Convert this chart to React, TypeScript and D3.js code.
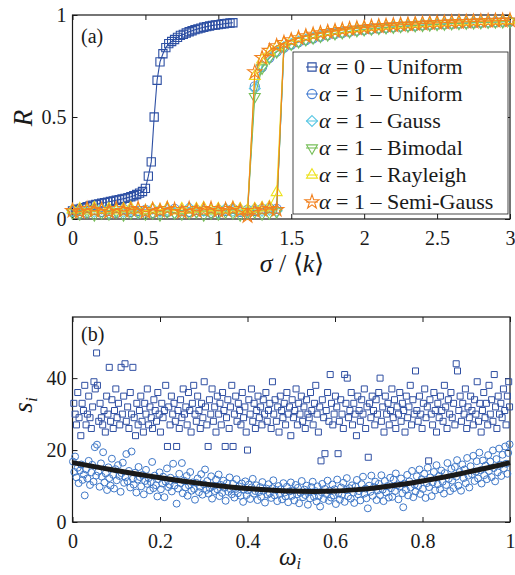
import React, { useEffect, useRef } from 'react';
import * as d3 from 'd3';

const width = 515;
const height = 575;
const serif = "'Liberation Serif', 'Times New Roman', serif";
const ink = '#1a1a1a';

// ---------- panel (a): order parameter R against sigma/<k> ----------
const sigmaAlpha0 = [0, 0.02, 0.04, 0.06, 0.08, 0.1, 0.12, 0.14, 0.16, 0.18, 0.2, 0.22, 0.24, 0.26, 0.28, 0.3, 0.32, 0.34, 0.36, 0.38, 0.4, 0.42, 0.44, 0.46, 0.48, 0.5, 0.52, 0.54, 0.56, 0.58, 0.6, 0.62, 0.64, 0.66, 0.68, 0.7, 0.72, 0.74, 0.76, 0.78, 0.8, 0.82, 0.84, 0.86, 0.88, 0.9, 0.92, 0.94, 0.96, 0.98, 1, 1.02, 1.04, 1.06, 1.08, 1.1];
const rAlpha0 = [0.04, 0.045, 0.048, 0.052, 0.056, 0.06, 0.064, 0.068, 0.071, 0.074, 0.077, 0.08, 0.083, 0.086, 0.089, 0.092, 0.095, 0.098, 0.101, 0.105, 0.109, 0.114, 0.12, 0.127, 0.135, 0.15, 0.21, 0.28, 0.5, 0.68, 0.77, 0.81, 0.84, 0.86, 0.87, 0.88, 0.89, 0.9, 0.905, 0.912, 0.918, 0.923, 0.928, 0.932, 0.936, 0.94, 0.943, 0.946, 0.949, 0.951, 0.953, 0.955, 0.957, 0.959, 0.961, 0.962];

const sigmaGrid = [0, 0.05, 0.1, 0.15, 0.2, 0.25, 0.3, 0.35, 0.4, 0.45, 0.5, 0.55, 0.6, 0.65, 0.7, 0.75, 0.8, 0.85, 0.9, 0.95, 1, 1.05, 1.1, 1.15, 1.2, 1.25, 1.3, 1.35, 1.4, 1.45, 1.5, 1.55, 1.6, 1.65, 1.7, 1.75, 1.8, 1.85, 1.9, 1.95, 2, 2.05, 2.1, 2.15, 2.2, 2.25, 2.3, 2.35, 2.4, 2.45, 2.5, 2.55, 2.6, 2.65, 2.7, 2.75, 2.8, 2.85, 2.9, 2.95, 3];
// incoherent branch: sigmaGrid[0..28]; synchronized branch: sigmaGrid[25..60]
const lowStart = 0;
const highStart = 25;

const lowUniform = [0.035, 0.04, 0.03, 0.045, 0.035, 0.04, 0.03, 0.05, 0.035, 0.04, 0.045, 0.03, 0.04, 0.035, 0.05, 0.04, 0.035, 0.045, 0.04, 0.03, 0.045, 0.04, 0.05, 0.035, 0.045, 0.04, 0.05, 0.055, 0.05];
const lowGauss = [0.04, 0.03, 0.045, 0.035, 0.05, 0.03, 0.04, 0.035, 0.045, 0.03, 0.04, 0.05, 0.035, 0.045, 0.03, 0.04, 0.055, 0.035, 0.04, 0.045, 0.03, 0.05, 0.04, 0.045, 0.035, 0.05, 0.04, 0.045, 0.04];
const lowBimodal = [0.03, 0.025, 0.035, 0.02, 0.03, 0.025, 0.035, 0.02, 0.03, 0.035, 0.025, 0.03, 0.02, 0.035, 0.03, 0.025, 0.03, 0.035, 0.02, 0.03, 0.025, 0.035, 0.03, 0.02, 0.03, 0.035, 0.025, 0.03, 0.035];
const lowRayleigh = [0.045, 0.05, 0.04, 0.055, 0.045, 0.05, 0.04, 0.05, 0.055, 0.045, 0.04, 0.05, 0.045, 0.055, 0.04, 0.05, 0.045, 0.05, 0.055, 0.04, 0.05, 0.045, 0.055, 0.05, 0.045, 0.05, 0.055, 0.06, 0.13];
const lowSemiGauss = [0.04, 0.035, 0.05, 0.04, 0.045, 0.035, 0.05, 0.04, 0.045, 0.05, 0.035, 0.045, 0.04, 0.05, 0.045, 0.035, 0.05, 0.04, 0.045, 0.05, 0.04, 0.045, 0.05, 0.04, 0.015, 0.04, 0.045, 0.05, 0.045];

const highUniform = [0.65, 0.745, 0.79, 0.82, 0.84, 0.855, 0.867, 0.877, 0.886, 0.894, 0.901, 0.907, 0.913, 0.918, 0.923, 0.927, 0.931, 0.934, 0.937, 0.94, 0.943, 0.945, 0.947, 0.95, 0.952, 0.954, 0.955, 0.957, 0.959, 0.96, 0.962, 0.963, 0.964, 0.966, 0.967, 0.968];
const highGauss = [0.64, 0.75, 0.795, 0.823, 0.843, 0.858, 0.87, 0.88, 0.889, 0.897, 0.904, 0.91, 0.915, 0.92, 0.925, 0.929, 0.932, 0.936, 0.939, 0.942, 0.944, 0.947, 0.949, 0.951, 0.953, 0.955, 0.957, 0.958, 0.96, 0.961, 0.963, 0.964, 0.965, 0.966, 0.968, 0.969];
const highBimodal = [0.6, 0.74, 0.79, 0.82, 0.842, 0.857, 0.869, 0.879, 0.888, 0.896, 0.903, 0.909, 0.914, 0.919, 0.924, 0.928, 0.932, 0.935, 0.938, 0.941, 0.944, 0.946, 0.948, 0.95, 0.952, 0.954, 0.956, 0.958, 0.959, 0.961, 0.962, 0.963, 0.965, 0.966, 0.967, 0.968];
const highRayleigh = [0.7, 0.78, 0.82, 0.845, 0.862, 0.875, 0.886, 0.895, 0.903, 0.91, 0.916, 0.921, 0.926, 0.93, 0.934, 0.938, 0.941, 0.944, 0.947, 0.949, 0.952, 0.954, 0.956, 0.958, 0.96, 0.961, 0.963, 0.964, 0.966, 0.967, 0.968, 0.969, 0.97, 0.971, 0.972, 0.973];
const highSemiGauss = [0.72, 0.79, 0.825, 0.848, 0.864, 0.877, 0.887, 0.896, 0.904, 0.911, 0.917, 0.922, 0.927, 0.931, 0.935, 0.938, 0.942, 0.945, 0.947, 0.95, 0.952, 0.954, 0.956, 0.958, 0.96, 0.962, 0.963, 0.965, 0.966, 0.967, 0.968, 0.97, 0.971, 0.972, 0.973, 0.974];

const legendAlpha = ['0', '1', '1', '1', '1', '1'];
const legendDist = ['Uniform', 'Uniform', 'Gauss', 'Bimodal', 'Rayleigh', 'Semi-Gauss'];
const seriesShapes = ['square', 'circle', 'diamond', 'down', 'up', 'star'];
const seriesColors = ['#2d4fa3', '#4a80d2', '#5cc8e4', '#78bf5a', '#ede21e', '#f2811f'];
const alpha1Low = [lowUniform, lowGauss, lowBimodal, lowRayleigh, lowSemiGauss];
const alpha1High = [highUniform, highGauss, highBimodal, highRayleigh, highSemiGauss];

// ---------- panel (b): node strength s_i against natural frequency omega_i ----------
const nodesAlpha0 = [
  [0.003, 33], [0.006, 30], [0.009, 27], [0.012, 36], [0.015, 29], [0.019, 24], [0.022, 33], [0.025, 31], [0.028, 38], [0.031, 27],
  [0.034, 30], [0.037, 35], [0.04, 29], [0.043, 26], [0.046, 32], [0.049, 39], [0.052, 37], [0.055, 47], [0.057, 38], [0.06, 28],
  [0.063, 33], [0.066, 29], [0.069, 27], [0.072, 31], [0.075, 25], [0.078, 35], [0.081, 30], [0.084, 43], [0.087, 28], [0.09, 34],
  [0.093, 26], [0.096, 31], [0.099, 37], [0.102, 29], [0.105, 33], [0.108, 27], [0.111, 43], [0.114, 30], [0.117, 35], [0.12, 44],
  [0.123, 28], [0.126, 32], [0.129, 26], [0.132, 36], [0.135, 30], [0.138, 43], [0.141, 29], [0.144, 24], [0.147, 33], [0.15, 27],
  [0.153, 31], [0.156, 35], [0.159, 28], [0.162, 25], [0.165, 33], [0.168, 30], [0.171, 37], [0.174, 27], [0.177, 32], [0.18, 29],
  [0.183, 26], [0.186, 34], [0.189, 31], [0.192, 28], [0.195, 36], [0.198, 30], [0.201, 25], [0.204, 33], [0.207, 29], [0.21, 31],
  [0.213, 38], [0.217, 21], [0.22, 32], [0.223, 27], [0.226, 35], [0.229, 30], [0.232, 33], [0.235, 28], [0.238, 21], [0.241, 31],
  [0.244, 26], [0.247, 34], [0.25, 29], [0.253, 37], [0.256, 30], [0.259, 32], [0.262, 27], [0.265, 36], [0.268, 31], [0.271, 25],
  [0.274, 33], [0.277, 38], [0.28, 30], [0.283, 28], [0.286, 35], [0.289, 31], [0.292, 26], [0.295, 33], [0.298, 29], [0.301, 39],
  [0.304, 32], [0.307, 27], [0.31, 21], [0.313, 34], [0.316, 30], [0.319, 37], [0.322, 28], [0.325, 32], [0.328, 25], [0.331, 35],
  [0.334, 30], [0.337, 33], [0.34, 27], [0.343, 36], [0.346, 31], [0.349, 21], [0.352, 29], [0.355, 34], [0.358, 26], [0.361, 32],
  [0.364, 38], [0.367, 21], [0.37, 30], [0.373, 35], [0.376, 28], [0.379, 33], [0.382, 31], [0.385, 27], [0.388, 36], [0.391, 29],
  [0.394, 32], [0.397, 25], [0.4, 20], [0.403, 34], [0.406, 30], [0.409, 37], [0.412, 28], [0.415, 33], [0.418, 26], [0.421, 31],
  [0.424, 35], [0.427, 29], [0.43, 32], [0.433, 27], [0.436, 34], [0.439, 30], [0.442, 36], [0.445, 28], [0.448, 31], [0.451, 33],
  [0.454, 26], [0.457, 39], [0.46, 30], [0.463, 34], [0.466, 28], [0.469, 32], [0.472, 25], [0.475, 35], [0.478, 31], [0.481, 29],
  [0.484, 33], [0.487, 27], [0.49, 36], [0.493, 30], [0.496, 32], [0.499, 24], [0.502, 34], [0.505, 29], [0.508, 31], [0.511, 37],
  [0.514, 27], [0.517, 33], [0.52, 30], [0.523, 35], [0.526, 28], [0.529, 32], [0.532, 26], [0.535, 34], [0.538, 30], [0.541, 29],
  [0.544, 36], [0.547, 31], [0.55, 27], [0.553, 33], [0.556, 38], [0.559, 30], [0.562, 25], [0.565, 32], [0.568, 17], [0.571, 34],
  [0.574, 29], [0.577, 19], [0.58, 31], [0.583, 36], [0.586, 28], [0.589, 41], [0.592, 33], [0.595, 27], [0.598, 30], [0.601, 35],
  [0.604, 32], [0.607, 19], [0.61, 28], [0.613, 34], [0.616, 30], [0.619, 26], [0.622, 41], [0.625, 33], [0.628, 40], [0.631, 29],
  [0.634, 31], [0.637, 36], [0.64, 27], [0.643, 33], [0.646, 30], [0.649, 24], [0.652, 35], [0.655, 31], [0.658, 28], [0.661, 34],
  [0.664, 30], [0.667, 37], [0.67, 26], [0.673, 32], [0.676, 18], [0.679, 33], [0.682, 29], [0.685, 35], [0.688, 31], [0.691, 27],
  [0.694, 34], [0.697, 30], [0.7, 36], [0.703, 40], [0.706, 28], [0.709, 32], [0.712, 25], [0.715, 35], [0.718, 30], [0.721, 33],
  [0.724, 27], [0.727, 31], [0.73, 37], [0.733, 29], [0.736, 34], [0.739, 26], [0.742, 32], [0.745, 30], [0.748, 36], [0.751, 28],
  [0.754, 33], [0.757, 31], [0.76, 25], [0.763, 35], [0.766, 29], [0.769, 32], [0.772, 38], [0.775, 27], [0.778, 34], [0.781, 30],
  [0.784, 42], [0.787, 31], [0.79, 28], [0.793, 35], [0.796, 30], [0.799, 26], [0.802, 33], [0.805, 37], [0.808, 29], [0.811, 32],
  [0.814, 17], [0.817, 34], [0.82, 30], [0.823, 27], [0.826, 36], [0.829, 31], [0.832, 25], [0.835, 33], [0.838, 29], [0.841, 35],
  [0.844, 31], [0.847, 28], [0.85, 38], [0.853, 32], [0.856, 26], [0.859, 34], [0.862, 30], [0.865, 36], [0.868, 29], [0.871, 33],
  [0.874, 27], [0.877, 44], [0.88, 42], [0.883, 31], [0.886, 35], [0.889, 28], [0.892, 33], [0.895, 30], [0.898, 37], [0.901, 26],
  [0.904, 32], [0.907, 29], [0.91, 35], [0.913, 31], [0.916, 27], [0.919, 34], [0.922, 30], [0.925, 39], [0.928, 28], [0.931, 33],
  [0.934, 25], [0.937, 31], [0.94, 36], [0.943, 29], [0.946, 33], [0.949, 27], [0.952, 38], [0.955, 30], [0.958, 34], [0.961, 28],
  [0.964, 41], [0.967, 32], [0.97, 26], [0.973, 35], [0.976, 30], [0.979, 33], [0.982, 29], [0.985, 37], [0.988, 31], [0.991, 27],
  [0.994, 35], [0.997, 39], [0.999, 32],
];

const nodesAlpha1 = [
  [0.001, 16.8], [0.004, 13.9], [0.006, 18.2], [0.009, 12.4], [0.012, 15.1], [0.014, 10.8], [0.017, 14.3], [0.02, 16.0], [0.023, 11.7], [0.026, 13.2],
  [0.028, 7.4], [0.031, 14.6], [0.034, 12.1], [0.037, 17.0], [0.04, 10.3], [0.043, 13.8], [0.045, 15.9], [0.048, 11.2], [0.051, 20.8], [0.054, 12.9],
  [0.056, 21.5], [0.059, 14.0], [0.062, 9.8], [0.065, 16.3], [0.067, 12.6], [0.07, 19.4], [0.073, 11.0], [0.076, 13.5], [0.079, 8.9], [0.082, 15.2],
  [0.084, 12.2], [0.087, 10.1], [0.09, 17.6], [0.093, 13.1], [0.095, 9.3], [0.098, 14.7], [0.101, 11.6], [0.104, 15.8], [0.107, 12.8], [0.11, 8.4],
  [0.112, 13.6], [0.115, 16.5], [0.118, 10.9], [0.121, 12.4], [0.123, 18.9], [0.126, 11.3], [0.129, 14.2], [0.132, 9.6], [0.135, 19.6], [0.138, 12.0],
  [0.14, 10.4], [0.143, 13.7], [0.146, 8.2], [0.149, 11.8], [0.151, 15.3], [0.154, 12.5], [0.157, 9.9], [0.16, 13.1], [0.163, 7.7], [0.166, 11.4],
  [0.168, 14.5], [0.171, 10.6], [0.174, 12.2], [0.177, 8.8], [0.179, 11.1], [0.182, 16.7], [0.185, 9.4], [0.188, 12.9], [0.191, 10.2], [0.194, 7.1],
  [0.196, 11.9], [0.199, 13.8], [0.202, 9.1], [0.205, 10.7], [0.207, 12.6], [0.21, 6.9], [0.213, 11.2], [0.216, 14.9], [0.219, 9.7], [0.222, 10.4],
  [0.224, 12.3], [0.227, 8.5], [0.23, 16.2], [0.233, 10.1], [0.235, 11.7], [0.238, 5.1], [0.241, 9.3], [0.244, 13.4], [0.247, 10.8], [0.25, 16.4],
  [0.252, 8.0], [0.255, 11.5], [0.258, 9.6], [0.261, 12.8], [0.263, 7.3], [0.266, 10.2], [0.269, 13.9], [0.272, 8.7], [0.275, 11.0], [0.278, 9.2],
  [0.28, 6.2], [0.283, 10.9], [0.286, 12.1], [0.289, 8.3], [0.291, 9.8], [0.294, 13.3], [0.297, 7.6], [0.3, 10.5], [0.303, 14.6], [0.306, 8.9],
  [0.308, 11.4], [0.311, 7.9], [0.314, 9.4], [0.317, 12.7], [0.319, 6.5], [0.322, 10.0], [0.325, 8.6], [0.328, 11.8], [0.331, 9.1], [0.334, 13.2],
  [0.336, 7.2], [0.339, 10.3], [0.342, 8.1], [0.345, 11.5], [0.347, 9.5], [0.35, 5.9], [0.353, 10.8], [0.356, 8.4], [0.359, 12.4], [0.362, 9.0],
  [0.364, 7.7], [0.367, 10.6], [0.37, 6.8], [0.373, 9.2], [0.375, 11.9], [0.378, 8.0], [0.381, 9.9], [0.384, 7.3], [0.387, 10.7], [0.39, 5.6],
  [0.392, 9.0], [0.395, 11.3], [0.398, 7.5], [0.401, 8.8], [0.403, 10.4], [0.406, 6.4], [0.409, 9.6], [0.412, 12.0], [0.415, 7.9], [0.418, 8.6],
  [0.42, 10.2], [0.423, 6.1], [0.426, 8.3], [0.429, 9.7], [0.431, 7.0], [0.434, 11.1], [0.437, 8.7], [0.44, 5.4], [0.443, 9.3], [0.446, 7.6],
  [0.448, 10.5], [0.451, 8.0], [0.454, 6.7], [0.457, 9.4], [0.459, 11.6], [0.462, 7.4], [0.465, 8.9], [0.468, 5.8], [0.471, 10.0], [0.474, 7.8],
  [0.476, 9.1], [0.479, 6.3], [0.482, 10.8], [0.485, 8.2], [0.487, 7.1], [0.49, 9.8], [0.493, 5.5], [0.496, 8.5], [0.499, 11.0], [0.502, 7.3],
  [0.504, 8.8], [0.507, 6.0], [0.51, 10.3], [0.513, 7.7], [0.515, 9.5], [0.518, 5.2], [0.521, 8.1], [0.524, 11.4], [0.527, 6.9], [0.53, 9.0],
  [0.532, 7.5], [0.535, 10.1], [0.538, 4.8], [0.541, 8.4], [0.543, 6.6], [0.546, 9.7], [0.549, 11.2], [0.552, 7.0], [0.555, 8.6], [0.558, 5.7],
  [0.56, 9.9], [0.563, 7.2], [0.566, 4.3], [0.569, 8.3], [0.571, 10.6], [0.574, 6.4], [0.577, 9.2], [0.58, 7.8], [0.583, 11.5], [0.586, 5.9],
  [0.588, 8.7], [0.591, 6.8], [0.594, 10.4], [0.597, 7.4], [0.599, 9.1], [0.602, 5.0], [0.605, 11.8], [0.608, 8.0], [0.611, 6.2], [0.614, 9.6],
  [0.616, 7.6], [0.619, 10.9], [0.622, 5.6], [0.625, 8.9], [0.627, 12.2], [0.63, 7.1], [0.633, 9.4], [0.636, 6.5], [0.639, 10.2], [0.642, 8.2],
  [0.644, 5.3], [0.647, 9.8], [0.65, 11.7], [0.653, 7.7], [0.655, 8.6], [0.658, 6.0], [0.661, 10.5], [0.664, 12.6], [0.667, 7.9], [0.67, 9.3],
  [0.672, 6.6], [0.675, 3.8], [0.678, 10.1], [0.681, 8.4], [0.683, 12.9], [0.686, 7.3], [0.689, 9.7], [0.692, 11.2], [0.695, 6.1], [0.698, 8.8],
  [0.7, 10.6], [0.703, 7.5], [0.706, 13.0], [0.709, 9.0], [0.711, 5.8], [0.714, 11.4], [0.717, 8.2], [0.72, 10.0], [0.723, 6.8], [0.726, 12.3],
  [0.728, 9.4], [0.731, 7.0], [0.734, 11.8], [0.737, 8.6], [0.739, 13.5], [0.742, 10.2], [0.745, 6.3], [0.748, 9.9], [0.751, 12.1], [0.754, 8.0],
  [0.756, 4.1], [0.759, 10.7], [0.762, 8.9], [0.765, 13.1], [0.767, 7.4], [0.77, 11.3], [0.773, 9.6], [0.776, 14.2], [0.779, 6.9], [0.782, 10.4],
  [0.784, 8.5], [0.787, 12.7], [0.79, 10.0], [0.793, 14.6], [0.795, 7.8], [0.798, 11.9], [0.801, 9.2], [0.804, 13.4], [0.807, 6.7], [0.81, 10.8],
  [0.812, 15.1], [0.815, 9.7], [0.818, 12.4], [0.821, 7.2], [0.823, 11.0], [0.826, 13.9], [0.829, 8.8], [0.832, 15.8], [0.835, 10.5], [0.838, 12.8],
  [0.84, 9.1], [0.843, 14.3], [0.846, 11.2], [0.849, 7.9], [0.851, 13.6], [0.854, 10.3], [0.857, 16.4], [0.86, 12.0], [0.863, 8.6], [0.866, 14.8],
  [0.868, 11.5], [0.871, 9.4], [0.874, 15.3], [0.877, 12.6], [0.879, 17.2], [0.882, 10.1], [0.885, 13.9], [0.888, 8.7], [0.891, 16.0], [0.894, 12.2],
  [0.896, 14.6], [0.899, 10.8], [0.902, 17.8], [0.905, 12.9], [0.907, 9.6], [0.91, 15.5], [0.913, 13.3], [0.916, 18.4], [0.919, 11.4], [0.922, 14.0],
  [0.924, 16.9], [0.927, 12.1], [0.93, 19.3], [0.933, 14.4], [0.935, 10.7], [0.938, 17.1], [0.941, 13.0], [0.944, 15.7], [0.947, 11.9], [0.95, 18.6],
  [0.952, 14.2], [0.955, 16.8], [0.958, 12.5], [0.961, 19.9], [0.963, 15.0], [0.966, 11.3], [0.969, 17.5], [0.972, 13.8], [0.975, 20.4], [0.978, 15.9],
  [0.98, 12.8], [0.983, 18.7], [0.986, 14.9], [0.989, 21.0], [0.991, 16.2], [0.994, 13.4], [0.996, 19.2], [0.999, 21.6],
];

const omegaCurve = [0, 0.05, 0.1, 0.15, 0.2, 0.25, 0.3, 0.35, 0.4, 0.45, 0.5, 0.55, 0.6, 0.65, 0.7, 0.75, 0.8, 0.85, 0.9, 0.95, 1];
const sCurve = [16.5, 15.4, 14.3, 13.3, 12.3, 11.4, 10.6, 9.9, 9.3, 8.9, 8.6, 8.5, 8.6, 9.0, 9.6, 10.4, 11.4, 12.5, 13.8, 15.1, 16.5];

const markerPath = (shape: string, size: number) => {
  if (shape === 'diamond') {
    const r = Math.sqrt(size / 2);
    return `M0,${-r}L${r},0L0,${r}L${-r},0Z`;
  }
  const types: Record<string, d3.SymbolType> = {
    square: d3.symbolSquare,
    circle: d3.symbolCircle,
    up: d3.symbolTriangle,
    down: d3.symbolTriangle,
    star: d3.symbolStar,
  };
  return d3.symbol(types[shape], size)() as string;
};

const markerSize: Record<string, number> = { square: 68, circle: 66, diamond: 60, up: 52, down: 52, star: 62 };

// font family is inherited from the <svg>; only size and colour are set here
const label = (sel: any, size: number) => sel.style('font-size', `${size}px`).attr('fill', ink);

const drawFrame = (svg: any, x: any, y: any, xt: number[], yt: number[]) => {
  const [x0, x1] = x.range();
  const [y0, y1] = y.range();
  const fmt = d3.format('~g');
  const style = (g: any) => {
    g.attr('font-family', null).attr('font-size', null);
    g.select('.domain').remove();
    label(g.selectAll('text'), 20);
    g.selectAll('line').attr('stroke', ink);
  };
  svg.append('g').attr('transform', `translate(0,${y0})`)
    .call(d3.axisBottom(x).tickValues(xt).tickFormat(fmt).tickSize(-5).tickPadding(12)).call(style);
  svg.append('g').attr('transform', `translate(0,${y1})`)
    .call(d3.axisTop(x).tickValues(xt).tickFormat(() => '').tickSize(-5)).call(style);
  svg.append('g').attr('transform', `translate(${x0},0)`)
    .call(d3.axisLeft(y).tickValues(yt).tickFormat(fmt).tickSize(-5).tickPadding(6)).call(style);
  svg.append('g').attr('transform', `translate(${x1},0)`)
    .call(d3.axisRight(y).tickValues(yt).tickFormat(() => '').tickSize(-5)).call(style);
  svg.append('rect')
    .attr('x', x0).attr('y', y1).attr('width', x1 - x0).attr('height', y0 - y1)
    .attr('fill', 'none').attr('stroke', ink).attr('stroke-width', 1.2);
};

const App = () => {
  const svgRef = useRef<SVGSVGElement>(null);

  useEffect(() => {
    const svg = d3.select(svgRef.current);
    svg.selectAll('*').remove();

    // ===== panel (a) =====
    const xA = d3.scaleLinear().domain([0, 3]).range([72.5, 510]);
    const yA = d3.scaleLinear().domain([0, 1]).range([219, 15]);
    drawFrame(svg, xA, yA, [0, 0.5, 1, 1.5, 2, 2.5, 3], [0, 0.5, 1]);

    const gA = svg.append('g');
    const line = d3.line<[number, number]>().x(d => xA(d[0])).y(d => yA(d[1]));

    const drawSeries = (pts: [number, number][], path: [number, number][], i: number) => {
      const shape = seriesShapes[i];
      const color = seriesColors[i];
      gA.append('path').datum(path).attr('d', line)
        .attr('fill', 'none').attr('stroke', color).attr('stroke-width', 1.1);
      gA.selectAll(null).data(pts).enter().append('path')
        .attr('d', markerPath(shape, markerSize[shape]))
        .attr('transform', d => `translate(${xA(d[0])},${yA(d[1])})${shape === 'down' ? ' rotate(180)' : ''}`)
        .attr('fill', 'none').attr('stroke', color).attr('stroke-width', 1.1);
    };

    const ptsA0 = sigmaAlpha0.map((s, k) => [s, rAlpha0[k]] as [number, number]);
    drawSeries(ptsA0, ptsA0, 0);

    alpha1Low.forEach((low, j) => {
      const high = alpha1High[j];
      const lowPts = low.map((r, k) => [sigmaGrid[lowStart + k], r] as [number, number]);
      const highPts = high.map((r, k) => [sigmaGrid[highStart + k], r] as [number, number]);
      // forward sweep (jumps up after the last incoherent point), then backward sweep
      const lastLow = lowStart + low.length - 1;
      const forward = [...lowPts, ...highPts.filter(d => d[0] > sigmaGrid[lastLow])];
      const backward = [...highPts.slice().reverse(), ...lowPts.filter(d => d[0] < sigmaGrid[highStart]).reverse()];
      drawSeries([...lowPts, ...highPts], [...forward, ...backward], j + 1);
    });

    // legend
    const lg = svg.append('g');
    lg.append('rect').attr('x', 293).attr('y', 52).attr('width', 215).attr('height', 162)
      .attr('fill', '#fff').attr('stroke', ink).attr('stroke-width', 0.8);
    legendDist.forEach((name, i) => {
      const cy = 67 + i * 27;
      const shape = seriesShapes[i];
      const color = seriesColors[i];
      lg.append('line').attr('x1', 306).attr('x2', 318).attr('y1', cy).attr('y2', cy)
        .attr('stroke', color).attr('stroke-width', 1.1);
      lg.append('path').attr('d', markerPath(shape, markerSize[shape]))
        .attr('transform', `translate(312,${cy})${shape === 'down' ? ' rotate(180)' : ''}`)
        .attr('fill', 'none').attr('stroke', color).attr('stroke-width', 1.1);
      const t = label(lg.append('text').attr('x', 319).attr('y', cy + 7), 22);
      t.append('tspan').attr('font-style', 'italic').text('α');
      t.append('tspan').text(` = ${legendAlpha[i]} – ${name}`);
    });

    label(svg.append('text').attr('x', 81).attr('y', 43), 20).text('(a)');

    label(svg.append('text').attr('transform', 'translate(32,118) rotate(-90)')
      .attr('text-anchor', 'middle').attr('font-style', 'italic'), 27).text('R');

    const xl = label(svg.append('text').attr('x', 292).attr('y', 272).attr('text-anchor', 'middle'), 26);
    xl.append('tspan').attr('font-style', 'italic').text('σ');
    xl.append('tspan').text(' / ⟨');
    xl.append('tspan').attr('font-style', 'italic').text('k');
    xl.append('tspan').text('⟩');

    // ===== panel (b) =====
    const xB = d3.scaleLinear().domain([0, 1]).range([72.5, 510]);
    const yB = d3.scaleLinear().domain([0, 57]).range([522, 317]);
    drawFrame(svg, xB, yB, [0, 0.2, 0.4, 0.6, 0.8, 1], [0, 20, 40]);

    const gB = svg.append('g');
    gB.selectAll(null).data(nodesAlpha0).enter().append('path')
      .attr('d', d3.symbol(d3.symbolSquare, 36)() as string)
      .attr('transform', d => `translate(${xB(d[0])},${yB(d[1])})`)
      .attr('fill', 'none').attr('stroke', '#2f4fa2').attr('stroke-width', 1);
    gB.selectAll(null).data(nodesAlpha1).enter().append('path')
      .attr('d', d3.symbol(d3.symbolCircle, 38)() as string)
      .attr('transform', d => `translate(${xB(d[0])},${yB(d[1])})`)
      .attr('fill', 'none').attr('stroke', '#3f78c8').attr('stroke-width', 1);

    const curve = omegaCurve.map((w, k) => [w, sCurve[k]] as [number, number]);
    gB.append('path').datum(curve)
      .attr('d', d3.line<[number, number]>().x(d => xB(d[0])).y(d => yB(d[1])).curve(d3.curveMonotoneX))
      .attr('fill', 'none').attr('stroke', '#1a1a1a').attr('stroke-width', 5);

    label(svg.append('text').attr('x', 81).attr('y', 341), 20).text('(b)');

    const yl = label(svg.append('text').attr('transform', 'translate(32,405) rotate(-90)')
      .attr('text-anchor', 'middle'), 27);
    yl.append('tspan').attr('font-style', 'italic').text('s');
    yl.append('tspan').attr('font-style', 'italic').style('font-size', '17px').attr('dy', 5).text('i');

    const wl = label(svg.append('text').attr('x', 290).attr('y', 565).attr('text-anchor', 'middle'), 25);
    wl.append('tspan').attr('font-style', 'italic').text('ω');
    wl.append('tspan').attr('font-style', 'italic').style('font-size', '16px').attr('dy', 4).text('i');
  }, []);

  return (
    <svg ref={svgRef} width={width} height={height}
      style={{ position: 'absolute', left: 0, top: 0, background: '#fff', fontFamily: serif }} />
  );
};

export default App;
